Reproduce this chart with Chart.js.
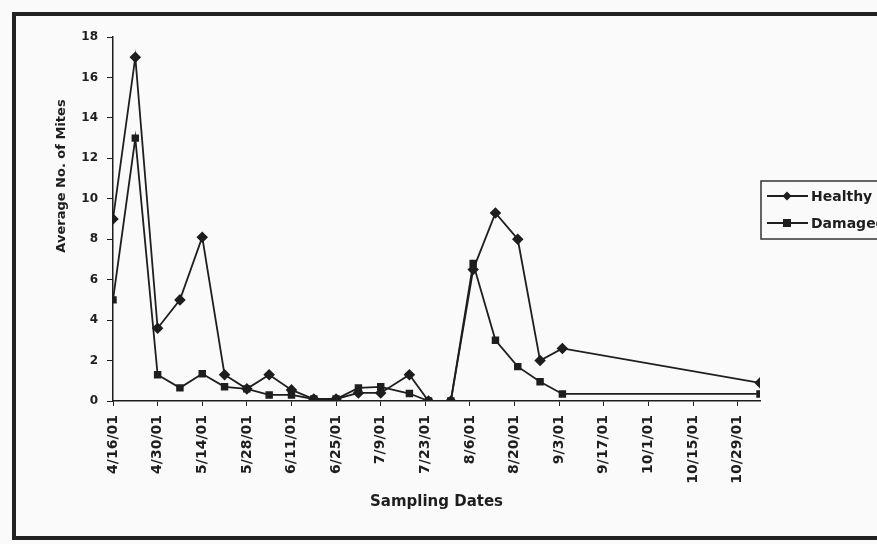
<!DOCTYPE html>
<html>
<head>
<meta charset="utf-8">
<script src="https://cdn.jsdelivr.net/npm/chart.js@4.4.1/dist/chart.umd.min.js"></script>
<style>
  html, body { margin: 0; padding: 0; background: #fafafa; overflow: hidden; }
  canvas { display: block; }
</style>
</head>
<body>
<canvas id="c" width="877" height="544"></canvas>
<script>
// ---- data ----
const startDate = '2001-04-16';
const sampleDates = ['2001-04-16','2001-04-23','2001-04-30','2001-05-07','2001-05-14','2001-05-21',
  '2001-05-28','2001-06-04','2001-06-11','2001-06-18','2001-06-25','2001-07-02','2001-07-09',
  '2001-07-18','2001-07-24','2001-07-31','2001-08-07','2001-08-14','2001-08-21','2001-08-28',
  '2001-09-04','2001-11-05'];
const healthy = [9.0, 17.0, 3.6, 5.0, 8.1, 1.3, 0.6, 1.3, 0.55, 0.1, 0.1, 0.4, 0.4,
  1.3, 0, 0, 6.5, 9.3, 8.0, 2.0, 2.6, 0.9];
const damaged = [5.0, 13.0, 1.3, 0.65, 1.35, 0.7, 0.6, 0.3, 0.3, 0.1, 0.1, 0.65, 0.7,
  0.37, 0, 0, 6.8, 3.0, 1.7, 0.95, 0.35, 0.35];
const xTickLabels = ['4/16/01','4/30/01','5/14/01','5/28/01','6/11/01','6/25/01','7/9/01',
  '7/23/01','8/6/01','8/20/01','9/3/01','9/17/01','10/1/01','10/15/01','10/29/01'];
const seriesNames = ['Healthy', 'Damaged'];
const yTitle = 'Average No. of Mites';
const xTitle = 'Sampling Dates';

// ---- helpers ----
const DAY = 86400000;
const dayOf = s => Math.round((Date.parse(s) - Date.parse(startDate)) / DAY);
const toPoints = vals => vals.map((v, i) => ({ x: dayOf(sampleDates[i]), y: v }));
const lastDay = dayOf(sampleDates[sampleDates.length - 1]);
const INK = '#1e1e1e';
const FONT = "'DejaVu Sans', sans-serif";

Chart.defaults.font.family = FONT;
Chart.defaults.font.weight = 'bold';
Chart.defaults.color = INK;

const framePlugin = {
  id: 'frame',
  beforeDraw(chart) {
    const ctx = chart.ctx;
    ctx.save();
    ctx.fillStyle = '#fafafa';
    ctx.fillRect(0, 0, chart.width, chart.height);
    ctx.strokeStyle = '#222';
    ctx.lineWidth = 4;
    ctx.strokeRect(14, 14, 900, 524);
    ctx.restore();
  }
};

const titlePlugin = {
  id: 'ytitle',
  afterDraw(chart) {
    const ctx = chart.ctx;
    ctx.save();
    ctx.translate(62, 176);
    ctx.rotate(-Math.PI / 2);
    ctx.font = 'bold 13px ' + FONT;
    ctx.fillStyle = INK;
    ctx.textAlign = 'center';
    ctx.textBaseline = 'middle';
    ctx.fillText(yTitle, 0, 0);
    ctx.restore();
  }
};

const legendPlugin = {
  id: 'boxlegend',
  afterDraw(chart) {
    const ctx = chart.ctx;
    ctx.save();
    ctx.strokeStyle = '#333';
    ctx.lineWidth = 1.5;
    ctx.strokeRect(761, 181, 160, 58);
    const rows = [196, 223];
    chart.data.datasets.forEach((ds, i) => {
      const y = rows[i];
      ctx.strokeStyle = INK;
      ctx.lineWidth = 1.8;
      ctx.beginPath();
      ctx.moveTo(767, y);
      ctx.lineTo(808, y);
      ctx.stroke();
      ctx.fillStyle = INK;
      ctx.beginPath();
      if (ds.pointStyle === 'rectRot') {
        ctx.moveTo(787, y - 4.5); ctx.lineTo(791.5, y); ctx.lineTo(787, y + 4.5); ctx.lineTo(782.5, y);
        ctx.closePath();
      } else {
        ctx.rect(783, y - 4, 8, 8);
      }
      ctx.fill();
      ctx.font = 'bold 14px ' + FONT;
      ctx.textAlign = 'left';
      ctx.textBaseline = 'middle';
      ctx.fillText(ds.label, 811, y + 1);
    });
    ctx.restore();
  }
};

new Chart(document.getElementById('c'), {
  type: 'line',
  data: {
    datasets: [
      { label: seriesNames[0], data: toPoints(healthy), borderColor: INK, backgroundColor: INK,
        borderWidth: 1.8, pointStyle: 'rectRot', pointRadius: 4.5, tension: 0 },
      { label: seriesNames[1], data: toPoints(damaged), borderColor: INK, backgroundColor: INK,
        borderWidth: 1.8, pointStyle: 'rect', pointRadius: 4, tension: 0 }
    ]
  },
  options: {
    responsive: false,
    animation: false,
    layout: { padding: { top: 37, right: 117, left: 0, bottom: 0 } },
    plugins: { legend: { display: false }, tooltip: { enabled: false } },
    scales: {
      x: {
        type: 'linear',
        min: 0,
        max: lastDay,
        afterFit: s => { s.height = 143; },
        afterBuildTicks: s => { s.ticks = s.ticks.filter(t => t.value % 14 === 0 && t.value / 14 < xTickLabels.length); },
        ticks: {
          stepSize: 14,
          includeBounds: false,
          autoSkip: false,
          minRotation: 90,
          maxRotation: 90,
          padding: 9,
          font: { size: 14, weight: 'bold' },
          color: INK,
          callback: v => xTickLabels[v / 14]
        },
        grid: { display: true, drawOnChartArea: false, drawTicks: true, tickLength: 5, color: INK, lineWidth: 1 },
        border: { display: true, color: INK, width: 1.5 },
        title: { display: true, text: xTitle, font: { size: 15, weight: 'bold' }, color: INK, padding: { top: 0, bottom: 33 } }
      },
      y: {
        min: 0,
        max: 18,
        afterFit: s => { s.width = 113; },
        ticks: { stepSize: 2, padding: 9, font: { size: 12, weight: 'bold' }, color: INK },
        grid: { display: true, drawOnChartArea: false, drawTicks: true, tickLength: 6, color: INK, lineWidth: 1 },
        border: { display: true, color: INK, width: 1.5 }
      }
    }
  },
  plugins: [framePlugin, titlePlugin, legendPlugin]
});
</script>
</body>
</html>
